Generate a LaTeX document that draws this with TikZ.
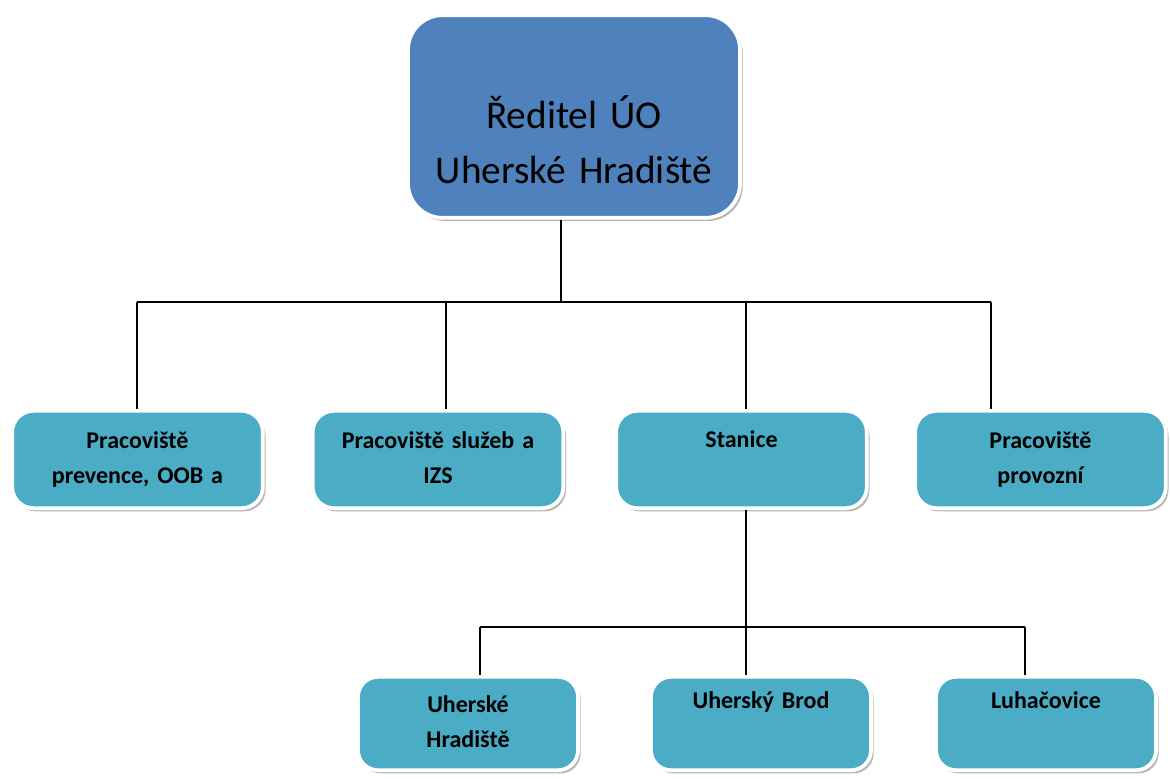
\documentclass[tikz,border=0pt]{standalone}
\usepackage{fontspec}
\setmainfont{Carlito}
\usetikzlibrary{shadows}
\definecolor{topblue}{RGB}{79,129,189}
\definecolor{unitaqua}{RGB}{75,172,198}

\begin{document}
\begin{tikzpicture}[x=0.75pt,y=-0.75pt,
  box/.style={rectangle,draw=white,line width=2.8pt,
    drop shadow={shadow xshift=2pt,shadow yshift=-2.4pt,opacity=0.4,fill=black!70}},
  head node/.style={box,fill=topblue,rounded corners=26pt,minimum width=249pt,minimum height=152pt},
  unit node/.style={box,fill=unitaqua,rounded corners=16pt,minimum width=188pt,minimum height=73pt},
  station node/.style={box,fill=unitaqua,rounded corners=15pt,minimum width=165pt,minimum height=70pt},
  caption/.style={anchor=base,text width=200pt,align=center,inner sep=0pt,
    font=\bfseries\fontsize{18}{26.5}\selectfont},
  link/.style={draw=black,line width=0.85pt}]
  \useasboundingbox (0,0) rectangle (1170,778);

  % director
  \node[head node] (dir) at (574,116.5) {};
  \node[caption,text width=245pt,font=\fontsize{29.5}{41}\selectfont] (dir-t)
    at ([yshift=-86.5pt]dir.north) {Ředitel ÚO\\Uherské Hradiště};

  % departments
  \node[unit node] (prev) at (137.5,459.5) {};
  \node[unit node] (serv) at (438,459.5) {};
  \node[unit node] (stan) at (741.5,459.5) {};
  \node[unit node] (oper) at (1040.5,459.5) {};
  \node[caption] (prev-t) at ([yshift=-29.5pt]prev.north) {Pracoviště\\prevence, OOB a};
  \node[caption] (serv-t) at ([yshift=-29.5pt]serv.north) {Pracoviště služeb a\\IZS};
  \node[caption] (stan-t) at ([yshift=-29pt]stan.north) {Stanice};
  \node[caption] (oper-t) at ([yshift=-29.5pt]oper.north) {Pracoviště\\provozní};

  % stations
  \node[station node] (uh) at (468,723.5) {};
  \node[station node] (ub) at (761,723.5) {};
  \node[station node] (luh) at (1046,723.5) {};
  \node[caption] (uh-t) at ([yshift=-28pt]uh.north) {Uherské\\Hradiště};
  \node[caption] (ub-t) at ([yshift=-25.5pt]ub.north) {Uherský Brod};
  \node[caption] (luh-t) at ([yshift=-25.5pt]luh.north) {Luhačovice};

  % upper bus
  \coordinate (bus) at (561,302);
  \coordinate (d1) at (137,302);
  \coordinate (d2) at (446,302);
  \coordinate (d3) at (746,302);
  \coordinate (d4) at (991,302);
  \draw[link] (dir.south -| bus) -- (bus);
  \draw[link] (d1) -- (d4);
  \foreach \d/\n in {d1/prev,d2/serv,d3/stan,d4/oper}
    \draw[link] (\d) -- (\d |- \n.north);

  % lower bus
  \coordinate (sub) at (746,627);
  \coordinate (sub-l) at (480,627);
  \coordinate (sub-r) at (1025,627);
  \draw[link] (sub |- stan.south) -- (sub |- ub.north);
  \draw[link] (sub-l) -- (sub-r);
  \draw[link] (sub-l) -- (sub-l |- uh.north);
  \draw[link] (sub-r) -- (sub-r |- luh.north);
\end{tikzpicture}
\end{document}
